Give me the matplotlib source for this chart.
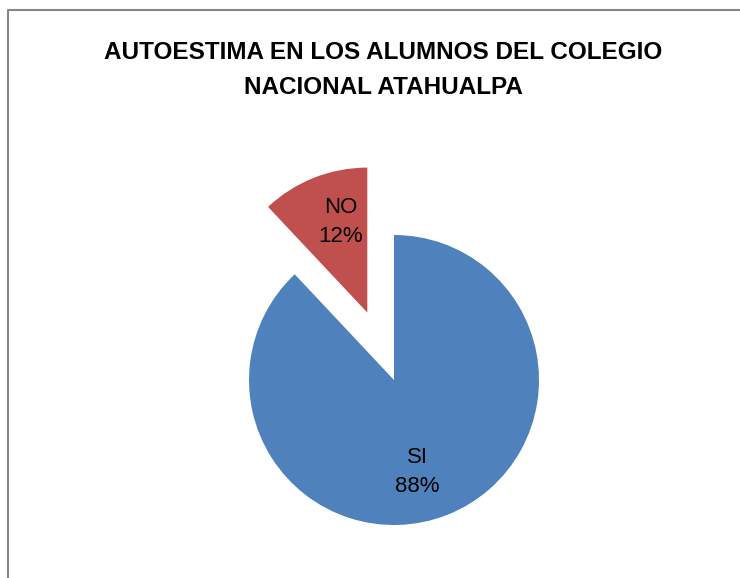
import numpy as np
import matplotlib
matplotlib.use("Agg")
import matplotlib.pyplot as plt

# data
labels = ["SI", "NO"]
values = [88, 12]
colors = ["#4F81BD", "#C0504D"]
explode_frac = [0, 0.5]   # fraction of the radius

title = "AUTOESTIMA EN LOS ALUMNOS DEL COLEGIO\nNACIONAL ATAHUALPA"

plt.rcParams['font.family'] = ['Liberation Sans', 'DejaVu Sans']

W, H = 740, 578
fig = plt.figure(figsize=(W / 100, H / 100), dpi=100)
ax = fig.add_axes([0, 0, 1, 1])

# chart border (cropped on right/bottom)
ax.plot([8, 8, W], [0, H - 10, H - 10], color="#878787", lw=1.5, clip_on=False)

cx, cy, r = 394, H - 380, 145
# matplotlib's explode is in data units, so scale by the radius
wedges, _ = ax.pie(values, colors=colors, explode=[e * r for e in explode_frac],
                   startangle=90, counterclock=False, center=(cx, cy), radius=r,
                   wedgeprops=dict(linewidth=0), frame=True)
ax.set_xlim(0, W)
ax.set_ylim(0, H)
ax.set_aspect('equal')
ax.axis('off')

# labels inside slices
label_pos = [(cx + 23, cy - 92), (cx - 53, cy + 158)]
for lab, val, (x, y) in zip(labels, values, label_pos):
    ax.text(x, y, f"{lab}\n{val}%", ha='center', va='center', fontsize=16,
            linespacing=1.55, color='black')

ax.text(W / 2 + 13, H - 70, title, ha='center', va='center', fontsize=17.5,
        fontweight='bold', linespacing=1.7)

fig.savefig("out.png", dpi=100)
